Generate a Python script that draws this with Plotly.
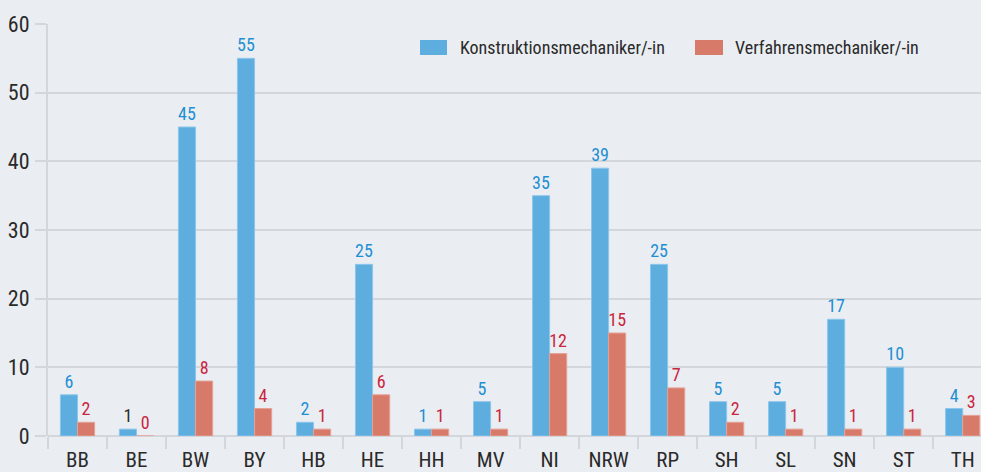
import plotly.graph_objects as go

categories = ["BB", "BE", "BW", "BY", "HB", "HE", "HH", "MV", "NI", "NRW", "RP", "SH", "SL", "SN", "ST", "TH"]
konstruktion = [6, 1, 45, 55, 2, 25, 1, 5, 35, 39, 25, 5, 5, 17, 10, 4]
verfahren = [2, 0, 8, 4, 1, 6, 1, 1, 12, 15, 7, 2, 1, 1, 1, 3]
y_ticks = [0, 10, 20, 30, 40, 50, 60]
series_names = ["Konstruktionsmechaniker/-in", "Verfahrensmechaniker/-in"]

FONT = "Roboto Condensed, Roboto, sans-serif"
BG = "#eaeef2"
GRID = "#d3d6da"
BLUE = "#5eaddf"
RED = "#d87a69"
BLUE_TXT = "#1f8fd3"
RED_TXT = "#c9253e"
DARK = "#2a2a2a"

W, H = 981, 472
ML, MR, MT, MB = 48, 0, 24, 36
PW, PH = W - ML - MR, H - MT - MB


def px_x(p):
    return (p - ML) / PW


def px_y(p):
    return 1 - (p - MT) / PH


blue_text_colors = [BLUE_TXT] * len(categories)
blue_text_colors[1] = DARK

fig = go.Figure()
fig.add_trace(go.Bar(
    x=categories, y=konstruktion, name=series_names[0],
    marker=dict(color=BLUE, line=dict(color="#8cc6ec", width=1)),
    text=[str(v) for v in konstruktion], textposition="outside",
    textfont=dict(color=blue_text_colors, size=18, family=FONT),
    constraintext="none", cliponaxis=False,
))
fig.add_trace(go.Bar(
    x=categories, y=verfahren, name=series_names[1],
    marker=dict(color=RED, line=dict(color="#e6a196", width=1)),
    text=[str(v) for v in verfahren], textposition="outside",
    textfont=dict(color=RED_TXT, size=18, family=FONT),
    constraintext="none", cliponaxis=False,
))

# legend drawn as swatches + text
legend_items = [(420, 447, 458, BLUE), (695, 723, 733, RED)]
for (x0, x1, tx, col), name in zip(legend_items, series_names):
    fig.add_shape(type="rect", xref="paper", yref="paper",
                  x0=px_x(x0), x1=px_x(x1), y0=px_y(55), y1=px_y(40),
                  fillcolor=col, line=dict(width=0), layer="above")
    fig.add_annotation(xref="paper", yref="paper", x=px_x(tx), y=px_y(47.5),
                       xanchor="left", yanchor="middle", showarrow=False,
                       text=name, font=dict(size=18, color=DARK, family=FONT))

fig.update_layout(
    width=W, height=H,
    margin=dict(l=ML, r=MR, t=MT, b=MB),
    paper_bgcolor=BG, plot_bgcolor=BG,
    font=dict(family=FONT, size=18, color=DARK),
    barmode="group", bargap=0.42, bargroupgap=0,
    showlegend=False,
)
fig.update_xaxes(
    type="category", range=[-0.5, 15.31],
    tickson="boundaries", ticks="outside", ticklen=12, tickcolor=GRID, tickwidth=2,
    showgrid=False, showline=False, tickfont=dict(size=21, color=DARK),
    ticklabelstandoff=9, fixedrange=True,
)
fig.update_yaxes(
    range=[0, 60], tickvals=y_ticks, showgrid=True, gridcolor=GRID, gridwidth=2,
    ticks="outside", ticklen=11, tickcolor=GRID, tickwidth=2,
    showline=True, linecolor=GRID, linewidth=2,
    zeroline=True, zerolinecolor=GRID, zerolinewidth=2,
    tickfont=dict(size=22, color=DARK), ticklabelstandoff=1,
)
fig.write_html(
    "out.html",
    config={"displayModeBar": False},
    post_script="document.body.style.margin='0';document.body.style.background='#eaeef2';",
)
